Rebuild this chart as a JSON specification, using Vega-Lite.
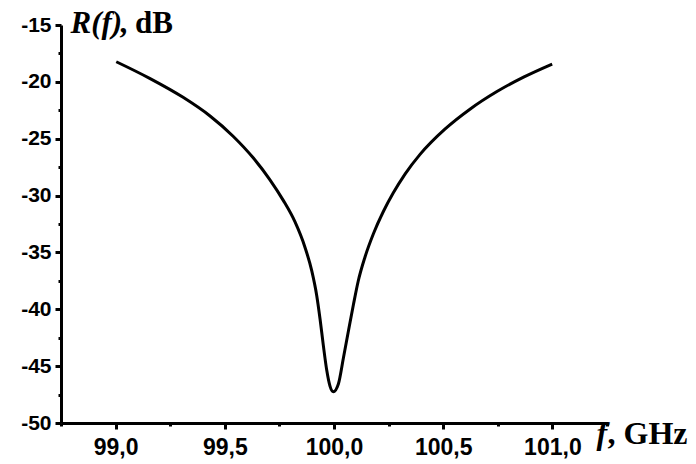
{
  "$schema": "https://vega.github.io/schema/vega-lite/v6.json",
  "width": 546,
  "height": 398,
  "autosize": {"type": "none"},
  "padding": {"left": 61, "top": 25, "right": 89, "bottom": 41},
  "background": "white",
  "config": {"view": {"stroke": null}},
  "data": {"values": [
    {"f": 99.003, "R": -18.23},
    {"f": 99.156, "R": -19.69},
    {"f": 99.309, "R": -21.36},
    {"f": 99.431, "R": -22.98},
    {"f": 99.538, "R": -24.78},
    {"f": 99.630, "R": -26.68},
    {"f": 99.706, "R": -28.59},
    {"f": 99.767, "R": -30.40},
    {"f": 99.821, "R": -32.30},
    {"f": 99.867, "R": -34.54},
    {"f": 99.898, "R": -36.60},
    {"f": 99.921, "R": -38.80},
    {"f": 99.936, "R": -40.83},
    {"f": 99.951, "R": -43.15},
    {"f": 99.967, "R": -45.39},
    {"f": 99.982, "R": -46.78},
    {"f": 99.997, "R": -47.25},
    {"f": 100.020, "R": -46.57},
    {"f": 100.043, "R": -44.29},
    {"f": 100.066, "R": -41.91},
    {"f": 100.089, "R": -39.58},
    {"f": 100.111, "R": -37.51},
    {"f": 100.142, "R": -35.40},
    {"f": 100.180, "R": -33.38},
    {"f": 100.226, "R": -31.40},
    {"f": 100.271, "R": -29.78},
    {"f": 100.326, "R": -28.09},
    {"f": 100.394, "R": -26.38},
    {"f": 100.509, "R": -24.14},
    {"f": 100.624, "R": -22.38},
    {"f": 100.746, "R": -20.85},
    {"f": 100.868, "R": -19.58},
    {"f": 100.999, "R": -18.43}
  ]},
  "resolve": {"axis": {"x": "independent", "y": "independent"}},
  "layer": [
    {
      "mark": {"type": "line", "color": "black", "strokeWidth": 3, "interpolate": "monotone"},
      "encoding": {
        "x": {
          "field": "f", "type": "quantitative",
          "scale": {"domain": [98.75, 101.25], "nice": false, "zero": false},
          "axis": {
            "orient": "bottom",
            "values": [99, 99.5, 100, 100.5, 101],
            "labelExpr": "replace(format(datum.value, '.1f'), '.', ',')",
            "grid": false,
            "domainColor": "black", "domainWidth": 3,
            "tickColor": "black", "tickWidth": 3, "tickSize": 6,
            "labelFont": "Liberation Sans", "labelFontWeight": "bold", "labelFontSize": 23,
            "labelColor": "black", "labelPadding": 7, "labelOverlap": false, "labelFlush": false,
            "title": "f",
            "titleFont": "Liberation Serif", "titleFontWeight": "bold", "titleFontStyle": "italic",
            "titleFontSize": 32, "titleColor": "black",
            "titleX": 535, "titleY": 20, "titleAlign": "left", "titleBaseline": "alphabetic", "titleAngle": 0
          }
        },
        "y": {
          "field": "R", "type": "quantitative",
          "scale": {"domain": [-50, -15], "nice": false, "zero": false},
          "axis": {
            "orient": "left",
            "values": [-50, -45, -40, -35, -30, -25, -20, -15],
            "labelExpr": "'' + datum.value",
            "grid": false,
            "domainColor": "black", "domainWidth": 3,
            "tickColor": "black", "tickWidth": 3, "tickSize": 6,
            "labelFont": "Liberation Sans", "labelFontWeight": "bold", "labelFontSize": 21,
            "labelColor": "black", "labelPadding": 4, "labelOverlap": false, "labelFlush": false,
            "title": "R(f)",
            "titleFont": "Liberation Serif", "titleFontWeight": "bold", "titleFontStyle": "italic",
            "titleFontSize": 31, "titleColor": "black",
            "titleX": 9, "titleY": 7, "titleAlign": "left", "titleBaseline": "alphabetic", "titleAngle": 0
          }
        }
      }
    },
    {
      "mark": {"type": "line", "color": "black", "strokeOpacity": 0},
      "encoding": {
        "x": {
          "field": "f", "type": "quantitative",
          "axis": {
            "orient": "bottom",
            "values": [98.75, 99.25, 99.75, 100.25, 100.75, 101.25],
            "labels": false, "domain": false, "grid": false,
            "tickColor": "black", "tickWidth": 3, "tickSize": 3,
            "title": ", GHz",
            "titleFont": "Liberation Serif", "titleFontWeight": "bold", "titleFontStyle": "normal",
            "titleFontSize": 32, "titleColor": "black",
            "titleX": 546, "titleY": 20, "titleAlign": "left", "titleBaseline": "alphabetic", "titleAngle": 0
          }
        },
        "y": {
          "field": "R", "type": "quantitative",
          "axis": {
            "orient": "left",
            "values": [-47.5, -42.5, -37.5, -32.5, -27.5, -22.5, -17.5],
            "labels": false, "domain": false, "grid": false,
            "tickColor": "black", "tickWidth": 3, "tickSize": 3,
            "title": ", dB",
            "titleFont": "Liberation Serif", "titleFontWeight": "bold", "titleFontStyle": "normal",
            "titleFontSize": 31, "titleColor": "black",
            "titleX": 58, "titleY": 7, "titleAlign": "left", "titleBaseline": "alphabetic", "titleAngle": 0
          }
        }
      }
    }
  ]
}
